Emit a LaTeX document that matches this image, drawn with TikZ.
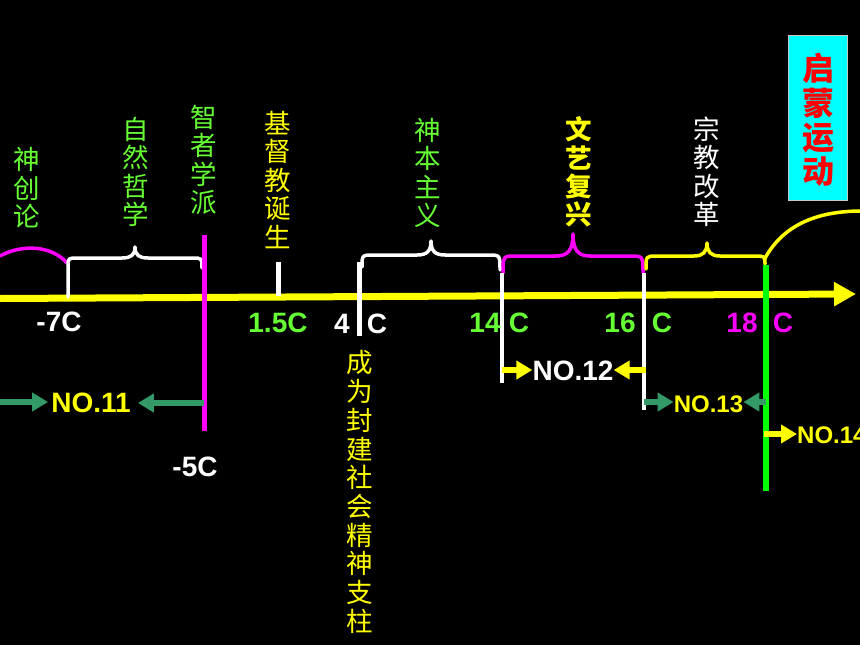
\documentclass[tikz,border=0pt]{standalone}
\usepackage{fontspec}
\setmainfont{Liberation Sans}
\newfontfamily\cjk{Noto Sans CJK SC}
\usetikzlibrary{arrows.meta}
\definecolor{tgreen}{RGB}{102,255,51}
\definecolor{lgreen}{RGB}{0,255,0}
\definecolor{sgreen}{RGB}{51,153,102}
\definecolor{tyellow}{RGB}{255,255,0}
\definecolor{tmag}{RGB}{255,0,255}
\definecolor{tcyan}{RGB}{0,255,255}
\tikzset{
  vtxt/.style={align=center, inner sep=0pt, font=\cjk\fontsize{26.5}{28.5}\selectfont},
  lbl/.style={inner sep=0pt, font=\bfseries\fontsize{28}{28}\selectfont},
  slbl/.style={inner sep=0pt, font=\bfseries\fontsize{24}{24}\selectfont},
  arr/.style={line width=6pt, -{Triangle[length=16pt,width=18pt]}},
  brace/.style={line width=3.5pt, line cap=round, line join=round},
  vline/.style={line width=4.5pt},
}
\begin{document}
\begin{tikzpicture}[x=1pt,y=-1pt]
\fill[black] (0,0) rectangle (860,645);
\clip (0,0) rectangle (860,645);
% main axis
\coordinate (ax0) at (0,298.5);
\coordinate (ax1) at (856,294);
\draw[tyellow, line width=7pt, -{Triangle[length=22pt,width=23pt]}] (ax0) -- (ax1);
% magenta arc
\draw[tmag, line width=3.5pt] (0,256) .. controls (22,244) and (52,245) .. (68,264);
% white brace 1
\draw[white, brace] (68,297) -- (68,267) .. controls (68,258) .. (78,258) -- (122,258) .. controls (131,258) and (135,255) .. (135,247) .. controls (135,255) and (139,258) .. (148,258) -- (192,258) .. controls (202,258) .. (202,268);
% magenta vertical
\draw[tmag, line width=5pt] (204,235) -- (204,431);
% 1.5C tick
\draw[white, line width=5pt] (278,262) -- (278,296);
% 4C tick
\draw[white, line width=5pt] (359,262) -- (359,336);
% white brace 2
\draw[white, brace] (362,267) .. controls (362,255) .. (374,255) -- (417,255) .. controls (427,255) and (431,251) .. (431,241) .. controls (431,251) and (435,255) .. (445,255) -- (488,255) .. controls (500,255) .. (500,270);
% magenta brace 3
\draw[tmag, brace] (503,273) .. controls (503,256) .. (516,256) -- (556,256) .. controls (568,256) and (573,250) .. (573,234) .. controls (573,250) and (578,256) .. (590,256) -- (630,256) .. controls (643,256) .. (643,273);
% yellow brace 4
\draw[tyellow, brace] (646,269) .. controls (646,256) .. (657,256) -- (694,256) .. controls (703,256) and (707,252) .. (707,243) .. controls (707,252) and (711,256) .. (720,256) -- (754,256) .. controls (765,256) .. (765,264);
% verticals
\draw[white, vline] (502,273) -- (502,383);
\draw[white, vline] (644,273) -- (644,410);
\draw[lgreen, line width=6pt] (766,265) -- (766,491);
% yellow arc
\draw[tyellow, line width=3.5pt] (764,260) .. controls (782,226) and (815,211) .. (862,211);
% enlightenment box
\node[draw={rgb,255:red,200;green,200;blue,200}, line width=1pt, fill=tcyan, minimum width=59pt, minimum height=165pt, inner sep=0pt] (qm) at (817.5,117.5) {};
\node[align=center, inner sep=0pt, text=red, font=\cjk\bfseries\fontsize{32}{34.3}\selectfont] (qmt) at (818,120) {启\\蒙\\运\\动};
% upper vertical texts
\node[vtxt, text=tgreen] (scl) at (27,188) {神\\创\\论};
\node[vtxt, text=tgreen] (zrzx) at (136,172) {自\\然\\哲\\学};
\node[vtxt, text=tgreen] (zzxp) at (204,160) {智\\者\\学\\派};
\node[vtxt, text=tyellow] (jdj) at (278,180) {基\\督\\教\\诞\\生};
\node[vtxt, text=tgreen] (sbzy) at (428,173) {神\\本\\主\\义};
\node[vtxt, text=tyellow, font=\cjk\bfseries\fontsize{26.5}{28.3}\selectfont] (wyfx) at (579,172) {文\\艺\\复\\兴};
\node[vtxt, text=white] (zjgg) at (707,172) {宗\\教\\改\\革};
\node[vtxt, text=tyellow, font=\cjk\fontsize{26.5}{28.7}\selectfont] (cwfj) at (360,492) {成\\为\\封\\建\\社\\会\\精\\神\\支\\柱};
% date labels
\node[lbl, text=white] (l7) at (59,322) {-7C};
\node[lbl, text=tgreen] (l15) at (278,323) {1.5C};
\node[lbl, text=white] (l5) at (195,467) {-5C};
\node[lbl, text=white] (l4) at (342,324) {4};
\node[lbl, text=white] (l4c) at (377,324) {C};
\node[lbl, text=tgreen] (l14) at (485,323) {14};
\node[lbl, text=tgreen] (l14c) at (519,323) {C};
\node[lbl, text=tgreen] (l16) at (620,323) {16};
\node[lbl, text=tgreen] (l16c) at (662,323) {C};
\node[lbl, text=tmag] (l18) at (742,323) {18};
\node[lbl, text=tmag] (l18c) at (783,323) {C};
% NO labels
\node[lbl, text=tyellow] (n11) at (91,403) {NO.11};
\node[lbl, text=white] (n12) at (573,371) {NO.12};
\node[slbl, text=tyellow] (n13) at (708.5,404) {NO.13};
\node[slbl, text=tyellow, anchor=west] (n14) at (797,435) {NO.14};
% arrow anchors
\coordinate (a11l) at (0,402);
\coordinate (a11r) at (204,403);
\coordinate (a12l) at (502,370);
\coordinate (a12r) at (646,370);
\coordinate (a13l) at (644,402);
\coordinate (a13r) at (766,402);
\coordinate (a14) at (764,434);
\draw[arr, sgreen] (a11l) -- ([xshift=-3pt]n11.west |- a11l);
\draw[arr, sgreen] (a11r) -- ([xshift=7pt]n11.east |- a11r);
\draw[arr, tyellow] (a12l) -- (n12.west |- a12l);
\draw[arr, tyellow] (a12r) -- (n12.east |- a12r);
\draw[arr, sgreen] (a13l) -- (n13.west |- a13l);
\draw[arr, sgreen] (a13r) -- (n13.east |- a13r);
\draw[arr, tyellow] (a14) -- (n14.west |- a14);
\end{tikzpicture}
\end{document}
